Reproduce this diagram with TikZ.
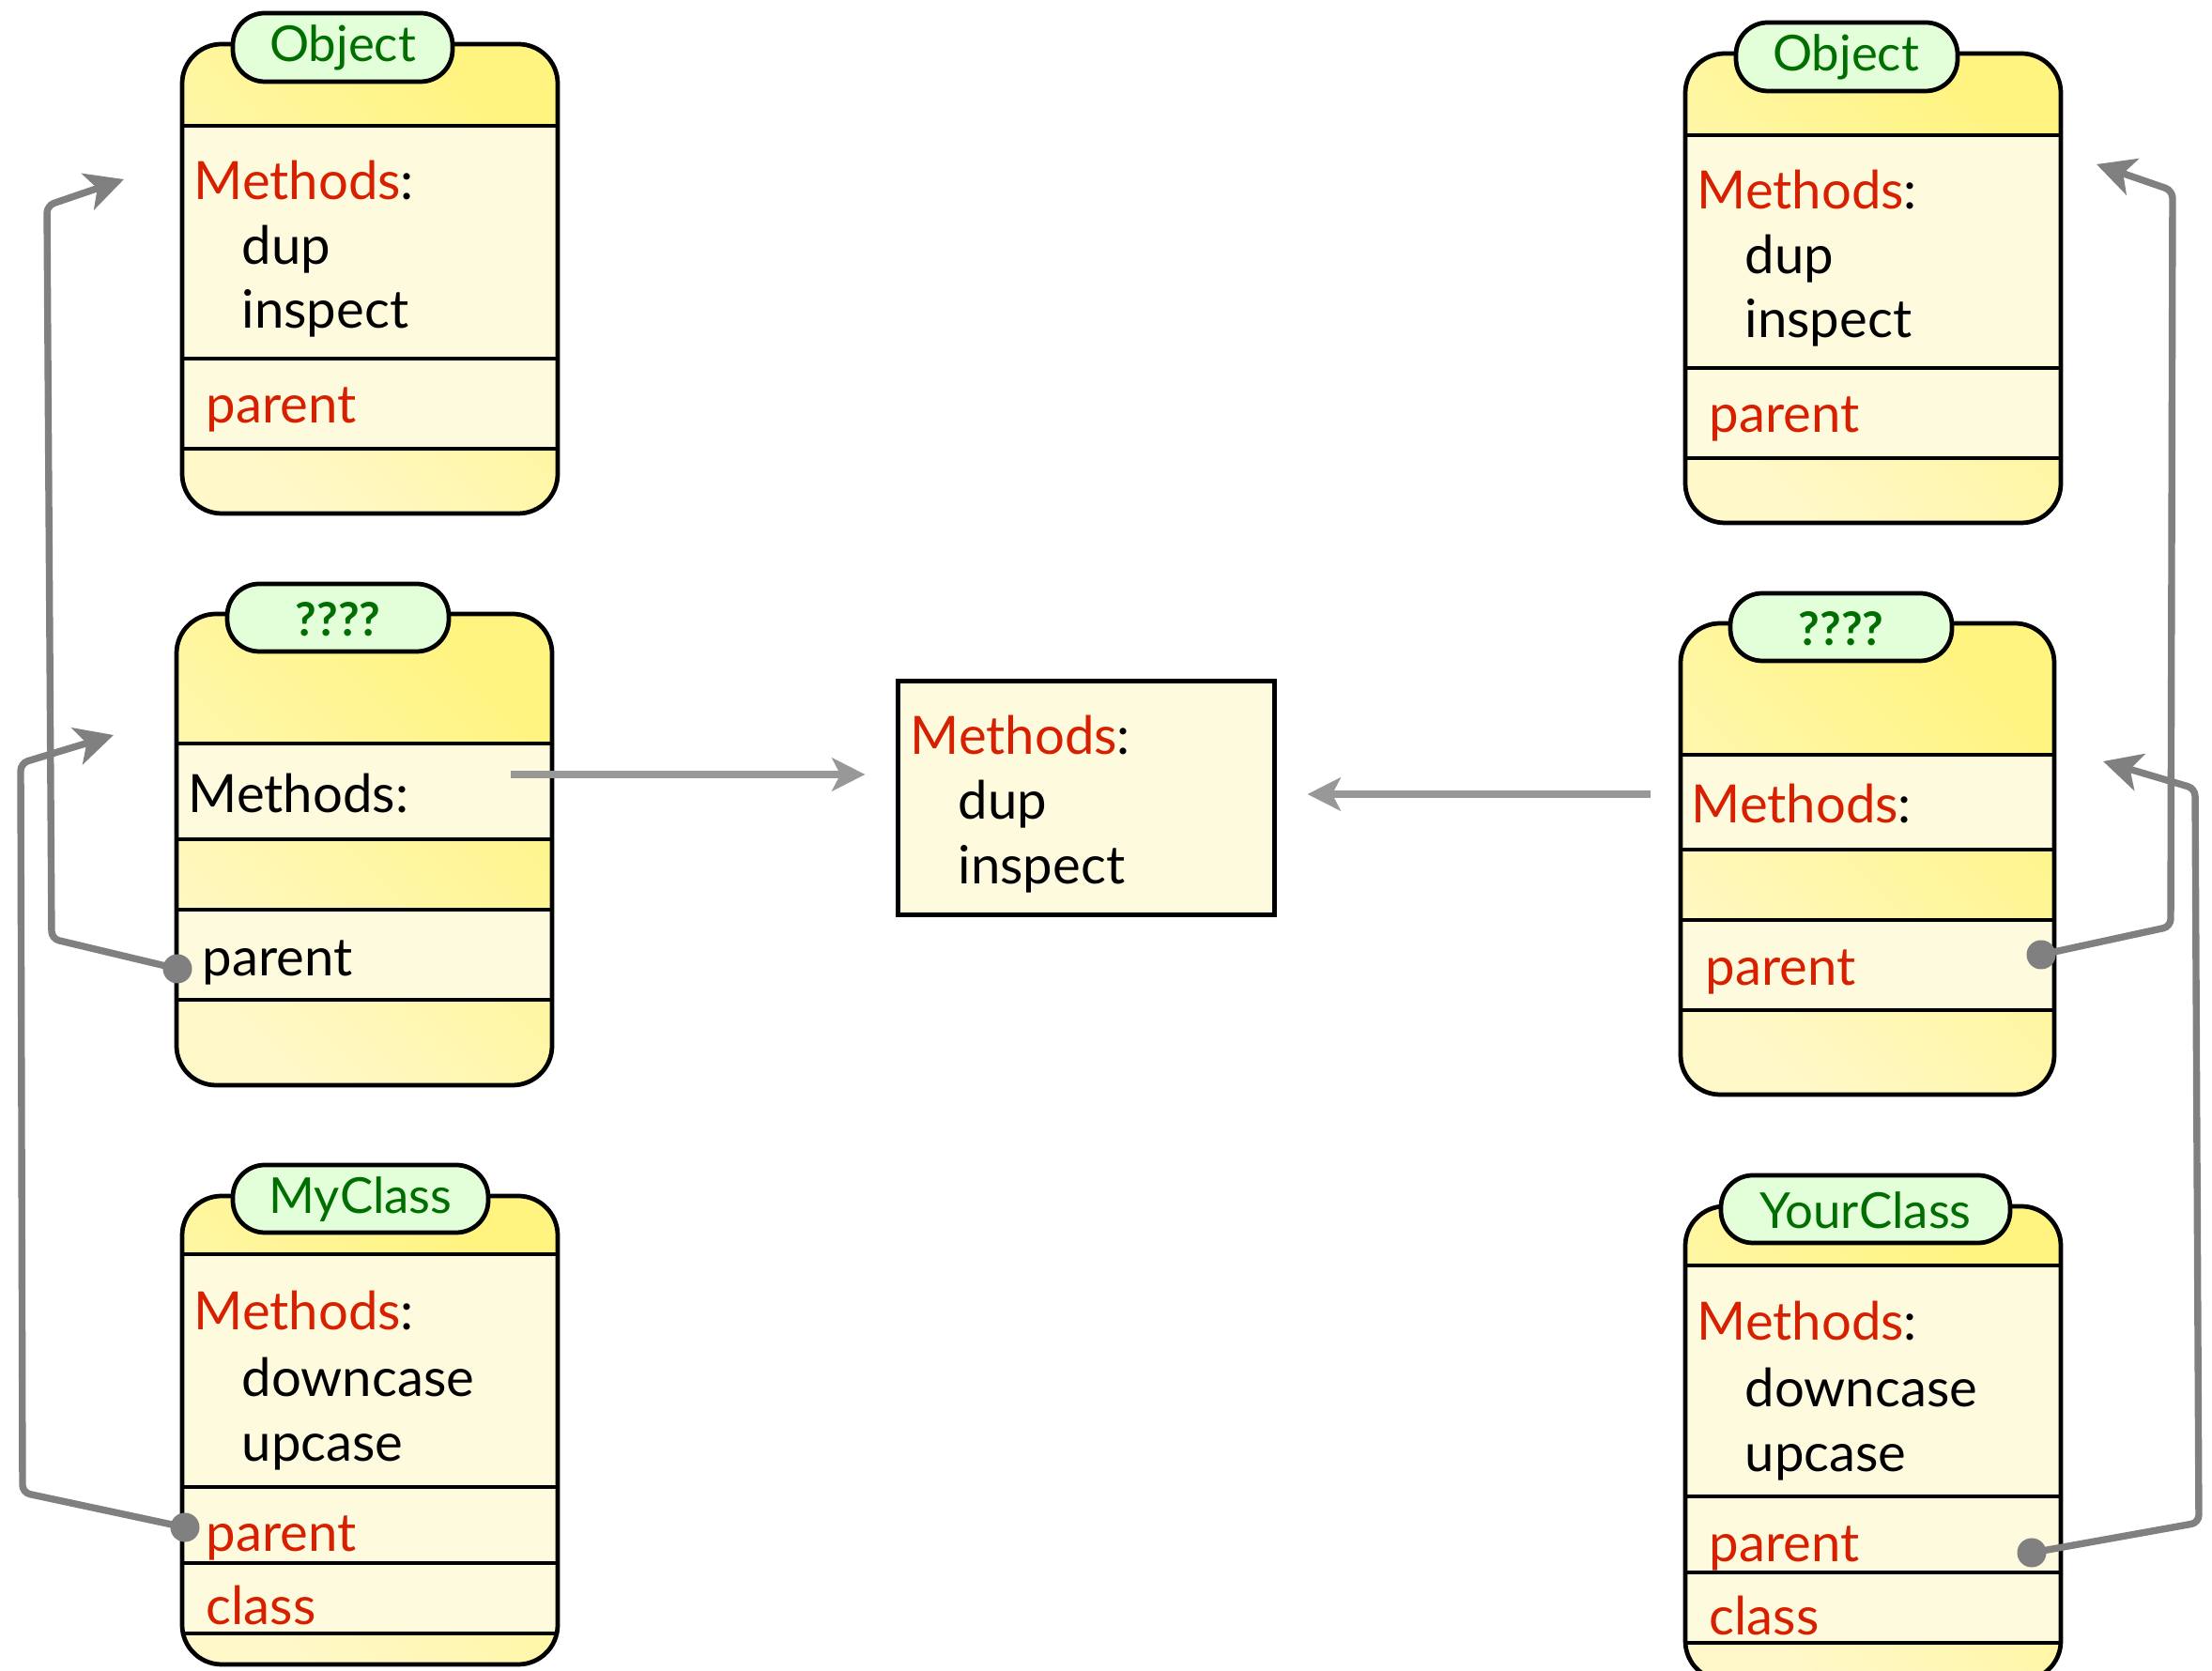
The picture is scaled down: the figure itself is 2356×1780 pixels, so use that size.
\documentclass[tikz,border=0pt]{standalone}
\usepackage{fontspec}
\setmainfont{Lato}
\usetikzlibrary{arrows.meta}

\definecolor{ybright}{RGB}{255,244,128}
\definecolor{ypale}{RGB}{255,248,200}
\definecolor{cream}{RGB}{254,250,222}
\definecolor{tabfill}{RGB}{226,255,218}
\definecolor{tgreen}{RGB}{0,110,0}
\definecolor{mred}{RGB}{214,32,0}
\definecolor{cgray}{RGB}{128,128,128}
\definecolor{lgray}{RGB}{152,152,152}

% class body: width, height, inner fills/lines (drawn clipped to the body)
\newcommand\classbody[3]{%
  \begin{scope}
    \clip[rounded corners=0.42cm] (0,0) rectangle (#1,#2);
    \shade[body] (0,0) rectangle (#1,#2);
    #3
  \end{scope}
  \draw[outline,rounded corners=0.42cm] (0,0) rectangle (#1,#2);}

\begin{document}
\begin{tikzpicture}[x=0.01cm,y=-0.01cm,
  outline/.style={draw=black,line width=1.35pt},
  sep/.style={draw=black,line width=1.35pt},
  body/.style={top color=ybright,bottom color=ypale,shading angle=-45},
  tabshape/.style={draw=black,line width=1.35pt,fill=tabfill,rounded corners=0.34cm},
  tabtxt/.style={inner sep=0pt,text=tgreen,font=\fontsize{15}{18}\selectfont},
  qtxt/.style={inner sep=0pt,text=tgreen,font=\fontsize{14}{17}\selectfont\bfseries},
  txt/.style={anchor=base west,inner sep=0pt,font=\fontsize{16}{19}\selectfont},
  conn/.style={draw=cgray,line width=2.1pt,rounded corners=0.08cm,
    -{Stealth[length=11.5pt,width=11.5pt,inset=3pt]}},
  flow/.style={draw=lgray,line width=2.2pt,
    -{Stealth[length=10pt,width=10pt,inset=2.5pt]}},
  dotc/.style={circle,fill=cgray,inner sep=0pt,minimum size=0.31cm},
]
\useasboundingbox (0,0) rectangle (2356,1780);
\clip (0,0) rectangle (2356,1780);
\fill[white] (0,0) rectangle (2356,1780);

% ---------- left column ----------
% Object
\begin{scope}[shift={(194,47)}]
  \classbody{400}{500}{%
    \fill[cream] (0,87) rectangle (400,431);
    \draw[sep] (0,87) -- (400,87) (0,335) -- (400,335) (0,431) -- (400,431);}
  \draw[tabshape] (54,-33) rectangle (288,40);
\end{scope}
\node[tabtxt] (tabA) at (365,51) {Object};
\node[txt] (mA) at (206,213) {\textcolor{mred}{Methods}:};
\node[txt] (dupA) at (257,282) {dup};
\node[txt] (insA) at (257,350) {inspect};
\node[txt,text=mred] (parA) at (219,451) {parent};

% ????
\begin{scope}[shift={(188,654)}]
  \classbody{400}{502}{%
    \fill[cream] (0,138) rectangle (400,240);
    \fill[cream] (0,315) rectangle (400,411);
    \draw[sep] (0,138) -- (400,138) (0,240) -- (400,240)
               (0,315) -- (400,315) (0,411) -- (400,411);}
  \draw[tabshape] (54,-32) rectangle (290,40);
\end{scope}
\node[qtxt] (tabB) at (360,660) {????};
\node[txt] (mB) at (200,866) {Methods:};
\node[txt] (parB) at (215,1040) {parent};

% MyClass
\begin{scope}[shift={(194,1274)}]
  \classbody{400}{499}{%
    \fill[cream] (0,62) rectangle (400,466);
    \draw[sep] (0,62) -- (400,62) (0,310) -- (400,310)
               (0,391) -- (400,391) (0,466) -- (400,466);}
  \draw[tabshape] (54,-33) rectangle (326,39);
\end{scope}
\node[tabtxt] (tabC) at (384,1278) {MyClass};
\node[txt] (mC) at (206,1417) {\textcolor{mred}{Methods}:};
\node[txt] (dnC) at (257,1488) {downcase};
\node[txt] (upC) at (257,1557) {upcase};
\node[txt,text=mred] (parC) at (219,1653) {parent};
\node[txt,text=mred] (clsC) at (219,1731) {class};

% ---------- right column ----------
% Object
\begin{scope}[shift={(1795,57)}]
  \classbody{400}{500}{%
    \fill[cream] (0,87) rectangle (400,431);
    \draw[sep] (0,87) -- (400,87) (0,335) -- (400,335) (0,431) -- (400,431);}
  \draw[tabshape] (54,-33) rectangle (290,40);
\end{scope}
\node[tabtxt] (tabD) at (1966,61) {Object};
\node[txt] (mD) at (1807,223) {\textcolor{mred}{Methods}:};
\node[txt] (dupD) at (1858,292) {dup};
\node[txt] (insD) at (1858,360) {inspect};
\node[txt,text=mred] (parD) at (1820,461) {parent};

% ????
\begin{scope}[shift={(1790,664)}]
  \classbody{398}{502}{%
    \fill[cream] (0,140) rectangle (398,241);
    \fill[cream] (0,316) rectangle (398,412);
    \draw[sep] (0,140) -- (398,140) (0,241) -- (398,241)
               (0,316) -- (398,316) (0,412) -- (398,412);}
  \draw[tabshape] (53,-32) rectangle (289,40);
\end{scope}
\node[qtxt] (tabE) at (1961,670) {????};
\node[txt] (mE) at (1801,877) {\textcolor{mred}{Methods}:};
\node[txt,text=mred] (parE) at (1816,1050) {parent};

% YourClass
\begin{scope}[shift={(1795,1285)}]
  \classbody{400}{505}{%
    \fill[cream] (0,63) rectangle (400,465);
    \draw[sep] (0,63) -- (400,63) (0,309) -- (400,309)
               (0,390) -- (400,390) (0,465) -- (400,465);}
  \draw[tabshape] (38,-33) rectangle (346,39);
\end{scope}
\node[tabtxt] (tabF) at (1987,1289) {YourClass};
\node[txt] (mF) at (1807,1428) {\textcolor{mred}{Methods}:};
\node[txt] (dnF) at (1858,1499) {downcase};
\node[txt] (upF) at (1858,1568) {upcase};
\node[txt,text=mred] (parF) at (1820,1664) {parent};
\node[txt,text=mred] (clsF) at (1820,1742) {class};

% ---------- shared method table ----------
\node[draw=black,line width=1.4pt,fill=cream,minimum width=4cm,minimum height=2.48cm]
  (G) at (1157,850) {};
\node[txt] (mG) at (969,804) {\textcolor{mred}{Methods}:};
\node[txt] (dupG) at (1020,873) {dup};
\node[txt] (insG) at (1020,942) {inspect};

% ---------- method table links ----------
\coordinate (fB) at (544,825);
\coordinate (fE) at (1758,846);
\draw[flow,shorten >=0.33cm] (fB) -- (fB -| G.west);
\draw[flow,shorten >=0.33cm] (fE) -- (fE -| G.east);

% ---------- parent links ----------
\node[dotc] (dB) at (189,1032) {};
\node[dotc] (dC) at (197,1627) {};
\node[dotc] (dE) at (2174,1017) {};
\node[dotc] (dF) at (2164,1654) {};
\coordinate (tA) at (132,191);
\coordinate (tB) at (121,783);
\coordinate (tD) at (2233,175);
\coordinate (tE) at (2240,811);

\draw[conn] (dB.center) -- (55,1000) -- (50,219) -- (tA);
\draw[conn] (dC.center) -- (24,1590) -- (22,813) -- (tB);
\draw[conn] (dE.center) -- (2312,987) -- (2314,203) -- (tD);
\draw[conn] (dF.center) -- (2342,1622) -- (2338,840) -- (tE);
\end{tikzpicture}
\end{document}
